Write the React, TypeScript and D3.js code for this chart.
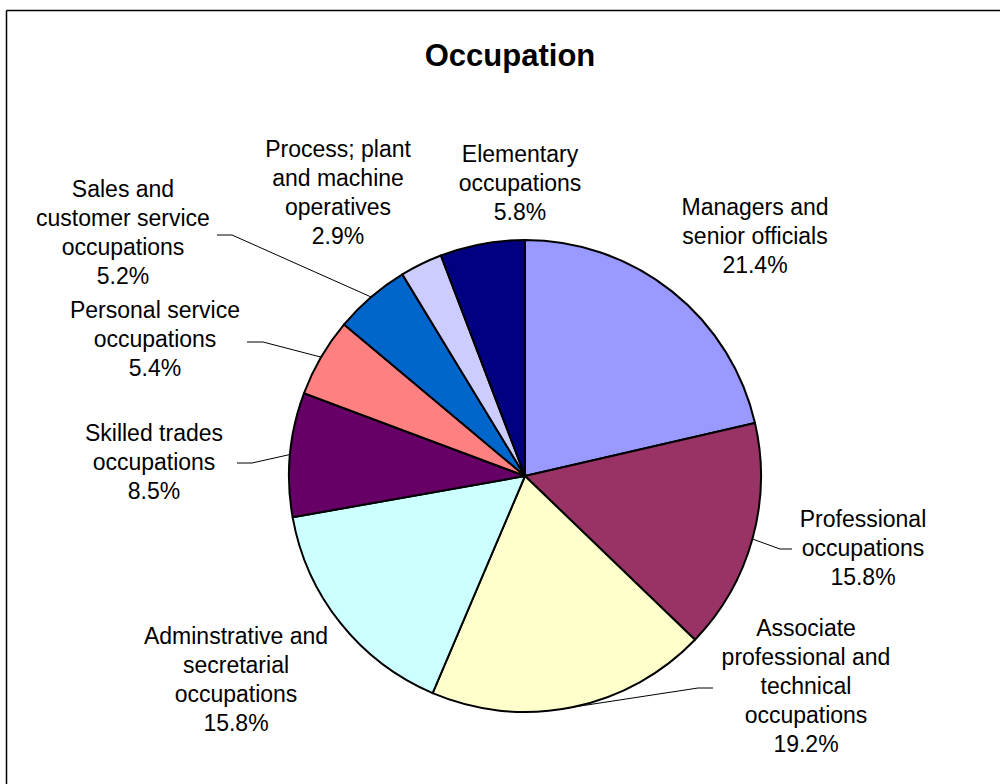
import React from "react";
import * as d3 from "d3";

const categories = [
  "Managers and senior officials",
  "Professional occupations",
  "Associate professional and technical occupations",
  "Adminstrative and secretarial occupations",
  "Skilled trades occupations",
  "Personal service occupations",
  "Sales and customer service occupations",
  "Process; plant and machine operatives",
  "Elementary occupations",
];
const values = [21.4, 15.8, 19.2, 15.8, 8.5, 5.4, 5.2, 2.9, 5.8];
const colors = ["#9999FF", "#993366", "#FFFFCC", "#CCFFFF", "#660066", "#FF8080", "#0066CC", "#CCCCFF", "#000080"];

const labelLines: string[][] = [
  ["Managers and", "senior officials"],
  ["Professional", "occupations"],
  ["Associate", "professional and", "technical", "occupations"],
  ["Adminstrative and", "secretarial", "occupations"],
  ["Skilled trades", "occupations"],
  ["Personal service", "occupations"],
  ["Sales and", "customer service", "occupations"],
  ["Process; plant", "and machine", "operatives"],
  ["Elementary", "occupations"],
];

// label layout: center x, first baseline y, optional leader elbow/end
const labelLayout: { x: number; y: number; leader?: [number, number, number] }[] = [
  { x: 755, y: 215 },
  { x: 863, y: 527, leader: [780, 549, 792] },
  { x: 806, y: 636, leader: [698, 688, 713] },
  { x: 236, y: 644 },
  { x: 154, y: 441, leader: [252, 463, 237] },
  { x: 155, y: 318, leader: [263, 342, 247] },
  { x: 123, y: 197, leader: [232, 235, 217] },
  { x: 338, y: 157 },
  { x: 520, y: 162 },
];

const W = 1000;
const H = 784;
const cx = 525;
const cy = 476;
const R = 236;
const LH = 29;
const font = "'Liberation Sans', Arial, sans-serif";

export default function App() {
  const pie = d3.pie<number>().sort(null).value((d) => d);
  const arcs = pie(values);
  const arc = d3.arc<d3.PieArcDatum<number>>().innerRadius(0).outerRadius(R);
  const edge = (a: d3.PieArcDatum<number>) => {
    const m = (a.startAngle + a.endAngle) / 2;
    return [cx + R * Math.sin(m), cy - R * Math.cos(m)];
  };
  return (
    <svg width={W} height={H} style={{ position: "absolute", left: 0, top: 0, background: "#fff" }}>
      <rect x={0} y={0} width={W} height={H} fill="#fff" />
      <line x1={6.5} y1={10.5} x2={W} y2={10.5} stroke="#000" strokeWidth={1.5} />
      <line x1={6.5} y1={10.5} x2={6.5} y2={H} stroke="#000" strokeWidth={1.5} />
      <text x={510} y={66} textAnchor="middle" fontFamily={font} fontWeight="bold" fontSize={31} fill="#000">
        Occupation
      </text>
      <g transform={`translate(${cx},${cy})`}>
        {arcs.map((a, i) => (
          <path key={i} d={arc(a) || ""} fill={colors[i]} stroke="#000" strokeWidth={2} strokeLinejoin="round" />
        ))}
      </g>
      {arcs.map((a, i) => {
        const L = labelLayout[i];
        if (!L.leader) return null;
        const [sx, sy] = edge(a);
        const [ex, ey, hx] = L.leader;
        return (
          <polyline key={"l" + i} points={`${sx},${sy} ${ex},${ey} ${hx},${ey}`} fill="none" stroke="#000" strokeWidth={1} />
        );
      })}
      {categories.map((c, i) => {
        const L = labelLayout[i];
        const lines = [...labelLines[i], values[i].toFixed(1) + "%"];
        return (
          <text key={"t" + i} textAnchor="middle" fontFamily={font} fontSize={23} fill="#000">
            {lines.map((s, j) => (
              <tspan key={j} x={L.x} y={L.y + j * LH}>
                {s}
              </tspan>
            ))}
          </text>
        );
      })}
    </svg>
  );
}
